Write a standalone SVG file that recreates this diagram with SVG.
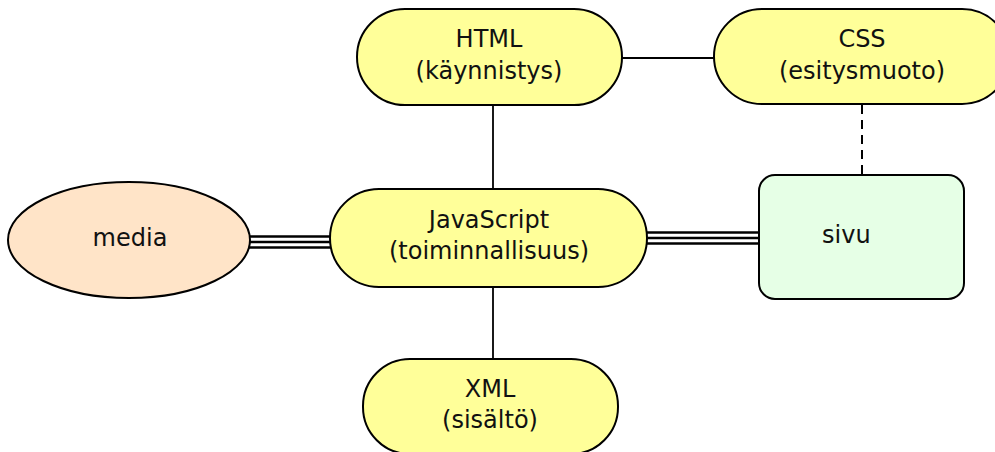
<svg xmlns="http://www.w3.org/2000/svg" width="995" height="452" viewBox="0 0 995 452">
  <style>
    .pill { fill: #ffff99; stroke: #000; stroke-width: 2; }
    .lbl { font-family: "DejaVu Sans", "Liberation Sans", sans-serif; font-size: 24px; fill: #111; text-anchor: middle; }
    .wire { stroke: #000; stroke-width: 1.8; fill: none; }
    .triple { stroke: #000; stroke-width: 2.6; fill: none; }
    .dash { stroke: #000; stroke-width: 2; stroke-dasharray: 9 6; fill: none; }
  </style>
  <rect width="995" height="452" fill="#fff"/>

  <g id="connectors">
    <line class="wire" x1="622" y1="58" x2="714" y2="58"/>
    <line class="wire" x1="493" y1="105" x2="493" y2="189"/>
    <line class="wire" x1="493" y1="287" x2="493" y2="359"/>
    <line class="dash" x1="862" y1="105" x2="862" y2="175"/>
    <!-- media to JavaScript: triple line -->
    <line class="triple" x1="248" y1="236.5" x2="332" y2="236.5"/>
    <line class="triple" x1="248" y1="242" x2="332" y2="242"/>
    <line class="triple" x1="248" y1="247.5" x2="332" y2="247.5"/>
    <!-- JavaScript to sivu: triple line -->
    <line class="triple" x1="646" y1="232.5" x2="760" y2="232.5"/>
    <line class="triple" x1="646" y1="238" x2="760" y2="238"/>
    <line class="triple" x1="646" y1="243.5" x2="760" y2="243.5"/>
  </g>

  <g id="html">
    <rect class="pill" x="357" y="9" width="265" height="96" rx="48" ry="48"/>
    <text class="lbl" x="489" y="47">HTML</text>
    <text class="lbl" x="489" y="79">(käynnistys)</text>
  </g>

  <g id="css">
    <rect class="pill" x="714" y="9" width="296" height="95" rx="48" ry="48"/>
    <text class="lbl" x="862" y="47">CSS</text>
    <text class="lbl" x="862" y="79">(esitysmuoto)</text>
  </g>

  <g id="javascript">
    <rect class="pill" x="330" y="189" width="317" height="98" rx="49" ry="49"/>
    <text class="lbl" x="489" y="228">JavaScript</text>
    <text class="lbl" x="489" y="259">(toiminnallisuus)</text>
  </g>

  <g id="media">
    <ellipse cx="129" cy="240" rx="121" ry="58" fill="#ffe4c8" stroke="#000" stroke-width="2"/>
    <text class="lbl" x="130" y="246">media</text>
  </g>

  <g id="sivu">
    <rect x="759" y="175" width="205" height="124" rx="16" ry="16" fill="#e6ffe6" stroke="#000" stroke-width="2"/>
    <text class="lbl" x="822" y="243" style="text-anchor:start">sivu</text>
  </g>

  <g id="xml">
    <rect class="pill" x="363" y="359" width="255" height="95" rx="47" ry="47"/>
    <text class="lbl" x="490" y="397">XML</text>
    <text class="lbl" x="490" y="428">(sisältö)</text>
  </g>
</svg>
